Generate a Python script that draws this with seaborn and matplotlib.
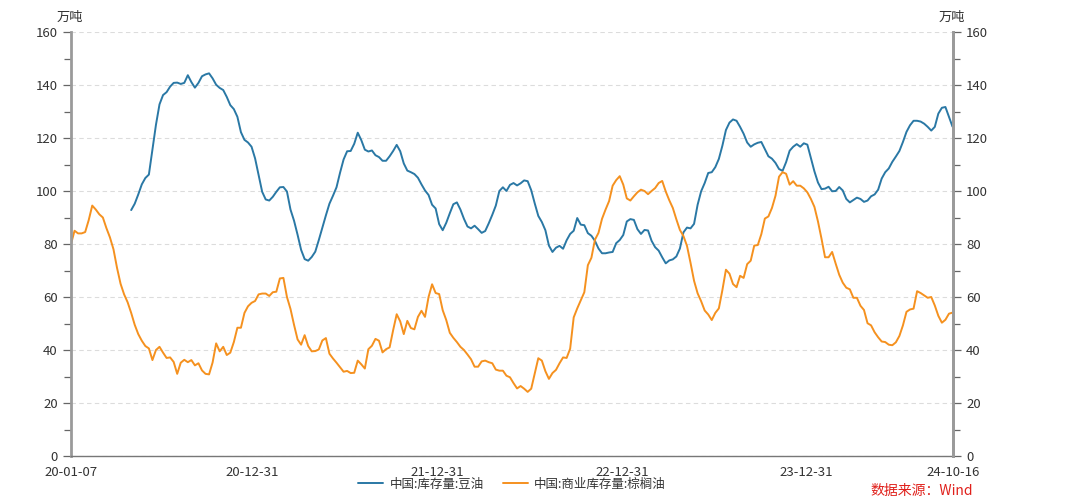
import numpy as np
import pandas as pd
import matplotlib
matplotlib.use("Agg")
import matplotlib.pyplot as plt
import matplotlib.dates as mdates
import seaborn as sns

# Datos semanales (万吨), desde 2020-01-07
fecha_inicio = "2020-01-07"
fecha_fin = "2024-10-16"
n_semanas = 250

nombre_soja = "中国:库存量:豆油"
nombre_palma = "中国:商业库存量:棕榈油"

palma = [
    80, 85, 84, 84, 84.5, 89, 94.5, 93, 91.2, 90, 86, 82.5, 78, 71, 65, 61, 58, 54, 49.5, 46,
    43.5, 41.5, 40.6, 36.2, 40, 41.2, 39, 37, 37.2, 35.5, 31, 35.2, 36.3, 35.4, 36.2, 34.2, 35, 32.3, 31, 30.8,
    35.3, 42.5, 39.5, 41.2, 38.1, 39, 43, 48.4, 48.4, 54, 56.5, 57.8, 58.5, 61, 61.3, 61.3, 60.4, 61.8, 62, 67,
    67.2, 60, 55.5, 49.5, 44, 42, 45.6, 41.5, 39.5, 39.6, 40.2, 43.6, 44.5, 38.6, 36.8, 35.2, 33.5, 31.8, 32.1, 31.3,
    31.4, 36, 34.6, 33, 40.3, 41.6, 44.2, 43.5, 39.1, 40.3, 41, 47.5, 53.5, 50.8, 46, 51, 48.3, 47.8, 52.5, 54.8,
    52.5, 60, 64.8, 61.5, 61.1, 55, 51.3, 46.5, 44.6, 43, 41.2, 40, 38.3, 36.5, 33.7, 33.7, 35.7, 36, 35.4, 35,
    32.6, 32.2, 32.2, 30.3, 29.7, 27.5, 25.5, 26.4, 25.4, 24.2, 25.4, 31.2, 36.9, 36, 32, 29.1, 31.3, 32.5, 35, 37.2,
    37, 40.5, 52.3, 55.7, 58.8, 61.8, 72, 74.8, 81.6, 84.2, 89.5, 93, 96.2, 102, 104.1, 105.6, 102.4, 97.2, 96.4, 98,
    99.5, 100.5, 100, 98.8, 100, 101.1, 103, 103.8, 99.8, 96.5, 93.6, 89.3, 85.3, 83, 79.3, 72.9, 66.1, 61.4, 58.4, 54.9,
    53.4, 51.3, 54, 55.7, 62.6, 70.3, 68.8, 64.9, 63.7, 68, 67.2, 72.4, 73.7, 79.4, 79.6, 83.7, 89.6, 90.4, 93.6, 98.2,
    105.4, 107.1, 106.5, 102.4, 103.7, 102, 102, 101, 99.5, 97, 94, 88.5, 82, 75, 75, 77, 72.6, 68.4, 65.4, 63.5,
    62.9, 59.7, 59.7, 56.7, 55.1, 50.1, 49.3, 46.7, 44.8, 43.2, 43, 42, 41.8, 42.9, 45.3, 49.3, 54.4, 55.3, 55.6, 62.2,
    61.5, 60.6, 59.7, 60, 56.8, 52.9, 50.3, 51.4, 53.7, 54.1,
]

soja = [np.nan] * 17 + [
    92.8, 95.2, 98.7,
    102.5, 104.9, 106.2, 115.5, 125, 132.7, 136.2, 137.3, 139.4, 140.8, 140.9, 140.4, 140.8, 143.7, 141.1, 139, 140.8, 143.3, 144, 144.4,
    142.5, 140.1, 138.9, 138.1, 135.5, 132.4, 130.9, 128, 122.2, 119.3, 118.3, 116.7, 112.3, 106, 99.7, 96.8, 96.4, 97.8, 99.7, 101.4,
    101.5, 99.8, 93, 88.8, 83.5, 77.8, 74.3, 73.7, 75.1, 77.1, 81.5, 86.2, 90.8, 95.2, 98.2, 101.4, 106.9, 111.9, 115, 115.1,
    117.8, 122, 119.2, 115.6, 114.9, 115.3, 113.5, 112.8, 111.4, 111.4, 113.1, 115.1, 117.4, 115, 110.4, 107.7, 107.1, 106.4, 105, 102.5,
    100.2, 98.5, 94.8, 93.4, 87.5, 85.2, 88, 91.6, 95, 95.7, 93, 89.5, 86.6, 85.9, 86.9, 85.6, 84.2, 84.9, 87.8, 91,
    94.5, 100, 101.4, 100, 102.3, 103, 102.1, 102.9, 104, 103.7, 100.3, 95.3, 90.6, 88.3, 85.2, 79.4, 77, 78.6, 79.3, 78.2,
    81.4, 83.8, 85, 89.8, 87.3, 87.1, 84.1, 83.1, 81.2, 78.3, 76.5, 76.5, 76.8, 77, 80.3, 81.5, 83.4, 88.5, 89.4, 89.1,
    85.6, 83.8, 85.3, 85.1, 81.2, 78.8, 77.5, 75, 72.7, 73.8, 74.2, 75.3, 78.3, 84.4, 86.2, 85.9, 87.6, 94.8, 99.9, 103,
    106.8, 107.1, 109, 112.1, 117.1, 123, 125.8, 127, 126.5, 124.2, 121.6, 118.3, 116.7, 117.6, 118.2, 118.5, 115.8, 113.1, 112.2, 110.6,
    108.3, 107.6, 110.9, 115.2, 116.7, 117.7, 116.7, 118, 117.5, 112.4, 107.4, 103.2, 100.7, 100.9, 101.6, 99.9, 100, 101.5, 100.2, 97,
    95.7, 96.6, 97.5, 97, 95.9, 96.4, 98, 98.7, 100.5, 104.7, 107.1, 108.5, 111, 113, 115.1, 118.5, 122.3, 124.8, 126.5, 126.5,
    126.2, 125.4, 124.2, 122.8, 124.2, 129.2, 131.4, 131.7, 128, 124.3,
]

ticks_y = [0, 20, 40, 60, 80, 100, 120, 140, 160]
etiquetas_x = ["20-01-07", "20-12-31", "21-12-31", "22-12-31", "23-12-31", "24-10-16"]
fechas_x = ["2020-01-07", "2020-12-31", "2021-12-31", "2022-12-31", "2023-12-31", "2024-10-16"]

# Armar tabla larga para seaborn
fechas = pd.date_range(fecha_inicio, periods=n_semanas, freq="7D")
df = pd.DataFrame({"fecha": fechas, nombre_soja: soja, nombre_palma: palma})
df_largo = df.melt(id_vars="fecha", var_name="serie", value_name="valor").dropna()

sns.set_style("white")
plt.rcParams["font.family"] = ["Noto Sans CJK SC", "DejaVu Sans"]

color_azul = "#2a78a5"
color_naranja = "#f5911f"
gris = "#9a9a9a"
texto = "#333333"

fig = plt.figure(figsize=(10.84, 4.99), dpi=100)
ax = fig.add_axes([71 / 1084, 1 - 456 / 499, (953 - 71) / 1084, (456 - 32) / 499])

sns.lineplot(data=df_largo, x="fecha", y="valor", hue="serie",
             hue_order=[nombre_soja, nombre_palma],
             palette=[color_azul, color_naranja], linewidth=1.4, ax=ax)

ax.set_xlim(pd.Timestamp(fecha_inicio), pd.Timestamp(fecha_fin))
ax.set_ylim(0, 160)
ax.set_xlabel("")
ax.set_ylabel("")

# Ejes y ticks
ax.set_yticks(ticks_y)
ax.set_yticks(np.arange(0, 161, 10), minor=True)
ax.set_xticks(pd.to_datetime(fechas_x))
ax.set_xticklabels(etiquetas_x)
ax.xaxis.set_minor_locator(mdates.MonthLocator(bymonth=[3, 6, 9, 12], bymonthday=-1))
ax.yaxis.grid(True, which="major", color="#dcdcdc", linestyle=(0, (4, 3)), linewidth=0.8)
ax.xaxis.grid(False)

ax.spines["top"].set_visible(False)
ax.spines["left"].set_color(gris)
ax.spines["left"].set_linewidth(2)
ax.spines["right"].set_color(gris)
ax.spines["right"].set_linewidth(2)
ax.spines["bottom"].set_color("#777777")
ax.spines["bottom"].set_linewidth(1)

ax.tick_params(axis="both", which="both", direction="out", color="#666666", width=0.9,
               labelsize=9.5, labelcolor=texto)
ax.tick_params(axis="y", which="major", length=6)
ax.tick_params(axis="y", which="minor", length=5)
ax.tick_params(axis="x", which="both", length=5, pad=2)

ax2 = ax.twinx()
ax2.set_ylim(0, 160)
ax2.set_yticks(ticks_y)
ax2.set_yticks(np.arange(0, 161, 10), minor=True)
for lado in ["top", "left", "bottom"]:
    ax2.spines[lado].set_visible(False)
ax2.spines["right"].set_color(gris)
ax2.spines["right"].set_linewidth(2)
ax2.tick_params(axis="y", which="both", direction="out", color="#666666", width=0.9,
                labelsize=9.5, labelcolor=texto)
ax2.tick_params(axis="y", which="major", length=6)
ax2.tick_params(axis="y", which="minor", length=5)

# Unidades
fig.text(70 / 1084, 1 - 17 / 499, "万吨", ha="center", va="center", fontsize=9.5, color=texto)
fig.text(952 / 1084, 1 - 17 / 499, "万吨", ha="center", va="center", fontsize=9.5, color=texto)

# Leyenda
ax.legend(loc="center", bbox_to_anchor=(0.5, -0.066), ncol=2, frameon=False,
          fontsize=9, handlelength=2.0, columnspacing=1.5, handletextpad=0.5,
          labelcolor=texto)

# Fuente (abajo a la derecha)
fig.text(870 / 1084, 1 - 498 / 499, "数据来源：Wind", ha="left", va="bottom",
         fontsize=10, color="#e0201b")

fig.savefig("out.png", dpi=100)
